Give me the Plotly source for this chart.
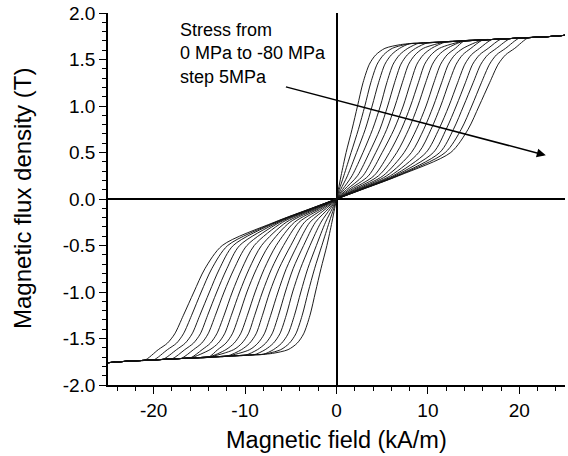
import plotly.graph_objects as go

# Stress levels (MPa), one curve each
stress_mpa = [0, -5, -10, -15, -20, -25, -30, -35, -40, -45, -50, -55, -60, -65, -70, -75, -80]

# Flux-density levels (T) at which the field was read for every curve (positive branch)
b_levels = [0.10, 0.25, 0.50, 0.75, 1.00, 1.25, 1.45, 1.55, 1.62]

# Field H (kA/m) where each curve reaches the levels above
h_0   = [0.20, 0.50, 1.05, 1.70, 2.30, 2.90, 3.60, 4.30, 5.30]
h_5   = [0.30, 0.80, 1.60, 2.40, 3.10, 3.75, 4.45, 5.15, 6.10]
h_10  = [0.45, 1.20, 2.20, 3.15, 3.90, 4.60, 5.30, 6.00, 6.90]
h_15  = [0.65, 1.70, 2.90, 3.95, 4.80, 5.50, 6.20, 6.90, 7.80]
h_20  = [0.85, 2.30, 3.60, 4.75, 5.60, 6.35, 7.05, 7.75, 8.65]
h_25  = [1.10, 2.90, 4.30, 5.50, 6.40, 7.20, 7.90, 8.60, 9.50]
h_30  = [1.35, 3.50, 5.00, 6.30, 7.30, 8.10, 8.80, 9.50, 10.40]
h_35  = [1.60, 4.10, 5.80, 7.10, 8.10, 8.95, 9.65, 10.35, 11.25]
h_40  = [1.85, 4.60, 6.60, 7.90, 8.90, 9.75, 10.50, 11.20, 12.10]
h_45  = [2.05, 5.10, 7.40, 8.75, 9.80, 10.65, 11.40, 12.10, 13.00]
h_50  = [2.25, 5.50, 8.20, 9.55, 10.60, 11.50, 12.25, 12.95, 13.85]
h_55  = [2.40, 5.90, 9.00, 10.35, 11.40, 12.30, 13.10, 13.80, 14.70]
h_60  = [2.50, 6.20, 9.80, 11.20, 12.30, 13.25, 14.05, 14.75, 15.65]
h_65  = [2.60, 6.40, 10.60, 12.00, 13.10, 14.10, 14.90, 15.65, 16.60]
h_70  = [2.65, 6.60, 11.30, 12.80, 13.90, 14.95, 15.80, 16.55, 17.50]
h_75  = [2.70, 6.70, 11.90, 13.65, 14.80, 15.85, 16.75, 17.50, 18.50]
h_80  = [2.75, 6.80, 12.50, 14.40, 15.60, 16.75, 17.70, 18.50, 19.50]

h_rows = [h_0, h_5, h_10, h_15, h_20, h_25, h_30, h_35, h_40,
          h_45, h_50, h_55, h_60, h_65, h_70, h_75, h_80]

# Common saturation band (upper envelope)
sat_h = [6, 7, 8, 9, 10, 12, 14, 16, 17, 18, 19, 20, 21, 22, 23, 25]
sat_b = [1.645, 1.66, 1.67, 1.675, 1.68, 1.69, 1.70, 1.71, 1.715, 1.72, 1.725, 1.73, 1.735, 1.74, 1.745, 1.76]

# Axis ticks
x_ticks = [-20, -10, 0, 10, 20]
x_ticklabels = ["-20", "-10", "0", "10", "20"]
y_ticks = [-2.0, -1.5, -1.0, -0.5, 0.0, 0.5, 1.0, 1.5, 2.0]
y_ticklabels = ["-2.0", "-1.5", "-1.0", "-0.5", "0.0", "0.5", "1.0", "1.5", "2.0"]

# Arrow (annotation) endpoints in data units
arrow_tail = (-5.7, 1.21)
arrow_head = (22.9, 0.47)

FONT = "Liberation Sans, Arial, sans-serif"

fig = go.Figure()
for s, row in zip(stress_mpa, h_rows):
    px = [0.0] + row
    py = [0.0] + b_levels
    for hh, bb in zip(sat_h, sat_b):
        if hh >= row[-1] + 1.0:
            px.append(hh)
            py.append(bb)
    xs = [-v for v in reversed(px[1:])] + px
    ys = [-v for v in reversed(py[1:])] + py
    fig.add_trace(go.Scatter(x=xs, y=ys, mode="lines",
                             line=dict(color="#111111", width=0.95, shape="spline", smoothing=0.8),
                             name=f"{s} MPa", showlegend=False, hoverinfo="skip"))

fig.update_layout(
    width=568, height=456,
    margin=dict(l=108, r=3, t=11, b=71),
    paper_bgcolor="white", plot_bgcolor="white",
    font=dict(family=FONT, size=19, color="black"),
    showlegend=False,
)
fig.update_xaxes(
    range=[-25, 25], tickvals=x_ticks, ticktext=x_ticklabels,
    showgrid=False, zeroline=True, zerolinecolor="black", zerolinewidth=1.5,
    showline=True, linecolor="black", linewidth=1.5, mirror=False,
    ticks="outside", ticklen=7, tickwidth=1.2, tickcolor="black",
    minor=dict(dtick=2, ticks="outside", ticklen=4, tickwidth=1, tickcolor="black"),
    tickfont=dict(size=19),
)
fig.update_yaxes(
    range=[-2, 2], tickvals=y_ticks, ticktext=y_ticklabels,
    showgrid=False, zeroline=True, zerolinecolor="black", zerolinewidth=1.5,
    showline=True, linecolor="black", linewidth=1.5, mirror=False,
    ticks="outside", ticklen=7, tickwidth=1.2, tickcolor="black",
    minor=dict(dtick=0.1, tick0=0, ticks="outside", ticklen=4, tickwidth=1, tickcolor="black"),
    tickfont=dict(size=19),
)

fig.add_annotation(x=0, y=0, xref="x", yref="paper", yshift=-55, text="Magnetic field (kA/m)",
                   showarrow=False, font=dict(size=23.5), xanchor="center", yanchor="middle")
fig.add_annotation(x=0, y=0, xref="paper", yref="y", xshift=-86, text="Magnetic flux density (T)",
                   showarrow=False, font=dict(size=24), textangle=-90, xanchor="center", yanchor="middle")
fig.add_annotation(x=-17.3, y=1.95, xref="x", yref="y", text="Stress from<br>0 MPa to -80 MPa<br>step 5MPa",
                   showarrow=False, font=dict(size=18), align="left", xanchor="left", yanchor="top")
fig.add_annotation(x=arrow_head[0], y=arrow_head[1], ax=arrow_tail[0], ay=arrow_tail[1],
                   xref="x", yref="y", axref="x", ayref="y", text="",
                   showarrow=True, arrowhead=2, arrowsize=1.2, arrowwidth=1.5, arrowcolor="black")

fig.write_html("out.html", config={"displayModeBar": False},
               post_script="document.body.style.margin='0';document.body.style.overflow='hidden';")
